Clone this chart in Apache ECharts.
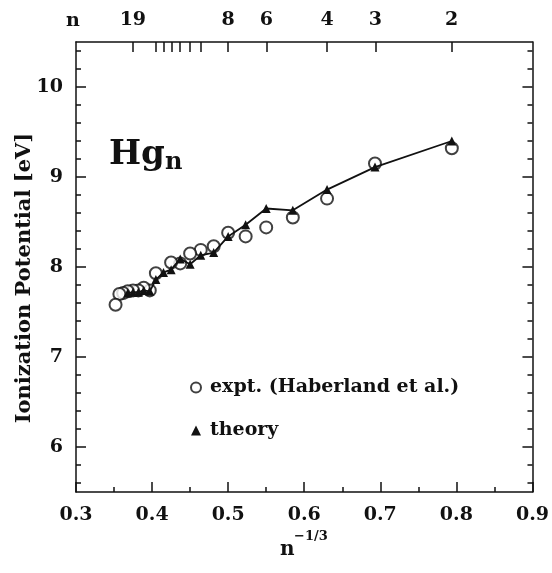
<!DOCTYPE html>
<html><head><meta charset="utf-8">
<script src="https://cdn.jsdelivr.net/npm/echarts@6/dist/echarts.min.js"></script>
<style>html,body{margin:0;padding:0;background:#fff}#c{width:552px;height:573px}</style>
</head><body><div id="c"></div>
<script>
// n^(-1/3) positions and ionization potentials (eV)
const exptX  = [0.794,0.693,0.630,0.585,0.550,0.523,0.500,0.481,0.464,0.450,0.437,0.425,0.405,0.397,0.389,0.382,0.375,0.368,0.362,0.357,0.352];
const exptIP = [9.32,9.15,8.76,8.55,8.44,8.34,8.38,8.23,8.19,8.15,8.04,8.05,7.93,7.74,7.77,7.74,7.74,7.73,7.71,7.70,7.58];
const theoryX  = [0.794,0.693,0.630,0.585,0.550,0.523,0.500,0.481,0.464,0.450,0.437,0.425,0.415,0.405,0.397,0.389,0.382,0.375,0.368];
const theoryIP = [9.40,9.11,8.86,8.63,8.65,8.47,8.34,8.16,8.13,8.03,8.09,7.97,7.94,7.86,7.73,7.74,7.72,7.72,7.71];
const xMajor = [0.3,0.4,0.5,0.6,0.7,0.8,0.9];
const xMinor = [0.35,0.45,0.55,0.65,0.75,0.85];
const yMajor = [6,7,8,9,10];
const yMinor = [5.6,5.8,6.2,6.4,6.6,6.8,7.2,7.4,7.6,7.8,8.2,8.4,8.6,8.8,9.2,9.4,9.6,9.8,10.2,10.4];
const nTicks  = [19,15,14,13,12,11,10,8,6,4,3,2];
const nLabels = [19,8,6,4,3,2];

const F = 'DejaVu Serif';
const lab = {fontFamily:F,fontSize:19,fontWeight:'bold',color:'#111'};
const line = {show:true,lineStyle:{color:'#111',width:1.5}};
const nPos = n => Math.pow(n,-1/3);

const chart = echarts.init(document.getElementById('c'));
chart.setOption({
  animation:false,
  backgroundColor:'#fff',
  grid:{left:76,right:18,top:42,bottom:81},
  xAxis:[
    {type:'value',min:0.3,max:0.9,position:'bottom',axisLine:line,splitLine:{show:false},
     axisTick:{inside:true,length:10,customValues:xMajor,lineStyle:{color:'#111',width:1.5}},
     axisLabel:{...lab,margin:14,customValues:xMajor,formatter:v=>v.toFixed(1)}},
    {type:'value',min:0.3,max:0.9,position:'bottom',axisLine:{show:false},splitLine:{show:false},
     axisTick:{inside:true,length:5,customValues:xMinor,lineStyle:{color:'#111',width:1.5}},
     axisLabel:{show:false}},
    {type:'value',min:0.3,max:0.9,position:'top',axisLine:line,splitLine:{show:false},
     axisTick:{inside:true,length:10,customValues:nTicks.map(nPos),lineStyle:{color:'#111',width:1.5}},
     axisLabel:{...lab,margin:12,customValues:nLabels.map(nPos),formatter:v=>String(Math.round(Math.pow(v,-3)))}}
  ],
  yAxis:[
    {type:'value',min:5.5,max:10.5,position:'left',axisLine:line,splitLine:{show:false},
     axisTick:{inside:true,length:10,customValues:yMajor,lineStyle:{color:'#111',width:1.5}},
     axisLabel:{...lab,margin:13,customValues:yMajor}},
    {type:'value',min:5.5,max:10.5,position:'left',axisLine:{show:false},splitLine:{show:false},
     axisTick:{inside:true,length:5,customValues:yMinor,lineStyle:{color:'#111',width:1.5}},axisLabel:{show:false}},
    {type:'value',min:5.5,max:10.5,position:'right',axisLine:line,splitLine:{show:false},
     axisTick:{inside:true,length:10,customValues:yMajor,lineStyle:{color:'#111',width:1.5}},axisLabel:{show:false}},
    {type:'value',min:5.5,max:10.5,position:'right',axisLine:{show:false},splitLine:{show:false},
     axisTick:{inside:true,length:5,customValues:yMinor,lineStyle:{color:'#111',width:1.5}},axisLabel:{show:false}}
  ],
  legend:{orient:'vertical',left:185,top:373,itemGap:24,itemWidth:10,itemHeight:10,
    textStyle:{fontFamily:F,fontSize:19,fontWeight:'bold',color:'#111',padding:[0,0,0,4]},
    data:[{name:'expt. (Haberland et al.)',icon:'emptyCircle'},{name:'theory',icon:'triangle'}]},
  series:[
    {name:'theory',type:'line',xAxisIndex:0,yAxisIndex:0,data:theoryX.map((x,i)=>[x,theoryIP[i]]),
     symbol:'triangle',symbolSize:9,showSymbol:true,lineStyle:{color:'#111',width:1.8},
     itemStyle:{color:'#111'},z:3},
    {name:'expt. (Haberland et al.)',type:'scatter',xAxisIndex:0,yAxisIndex:0,data:exptX.map((x,i)=>[x,exptIP[i]]),
     symbol:'emptyCircle',symbolSize:12,itemStyle:{color:'#111',borderColor:'#111',borderWidth:2},z:2}
  ],
  graphic:[
    {type:'text',left:109,top:138,style:{rich:{a:{fontFamily:F,fontSize:34,fontWeight:'bold',fill:'#111'},b:{fontFamily:F,fontSize:24,fontWeight:'bold',fill:'#111',padding:[16,0,0,0]}},text:'{a|Hg}{b|n}'}},
    {type:'text',x:25,y:278,rotation:Math.PI/2,style:{text:'Ionization Potential [eV]',fontFamily:F,fontSize:21,fontWeight:'bold',fill:'#111',align:'center',verticalAlign:'middle'}},
    {type:'text',left:66,top:12,style:{text:'n',fontFamily:F,fontSize:19,fontWeight:'bold',fill:'#111'}},
    {type:'text',left:280,top:540,style:{text:'n',fontFamily:F,fontSize:20,fontWeight:'bold',fill:'#111'}},
    {type:'text',left:294,top:530,style:{text:'\u22121/3',fontFamily:F,fontSize:13,fontWeight:'bold',fill:'#111'}}
  ]
});
</script></body></html>
